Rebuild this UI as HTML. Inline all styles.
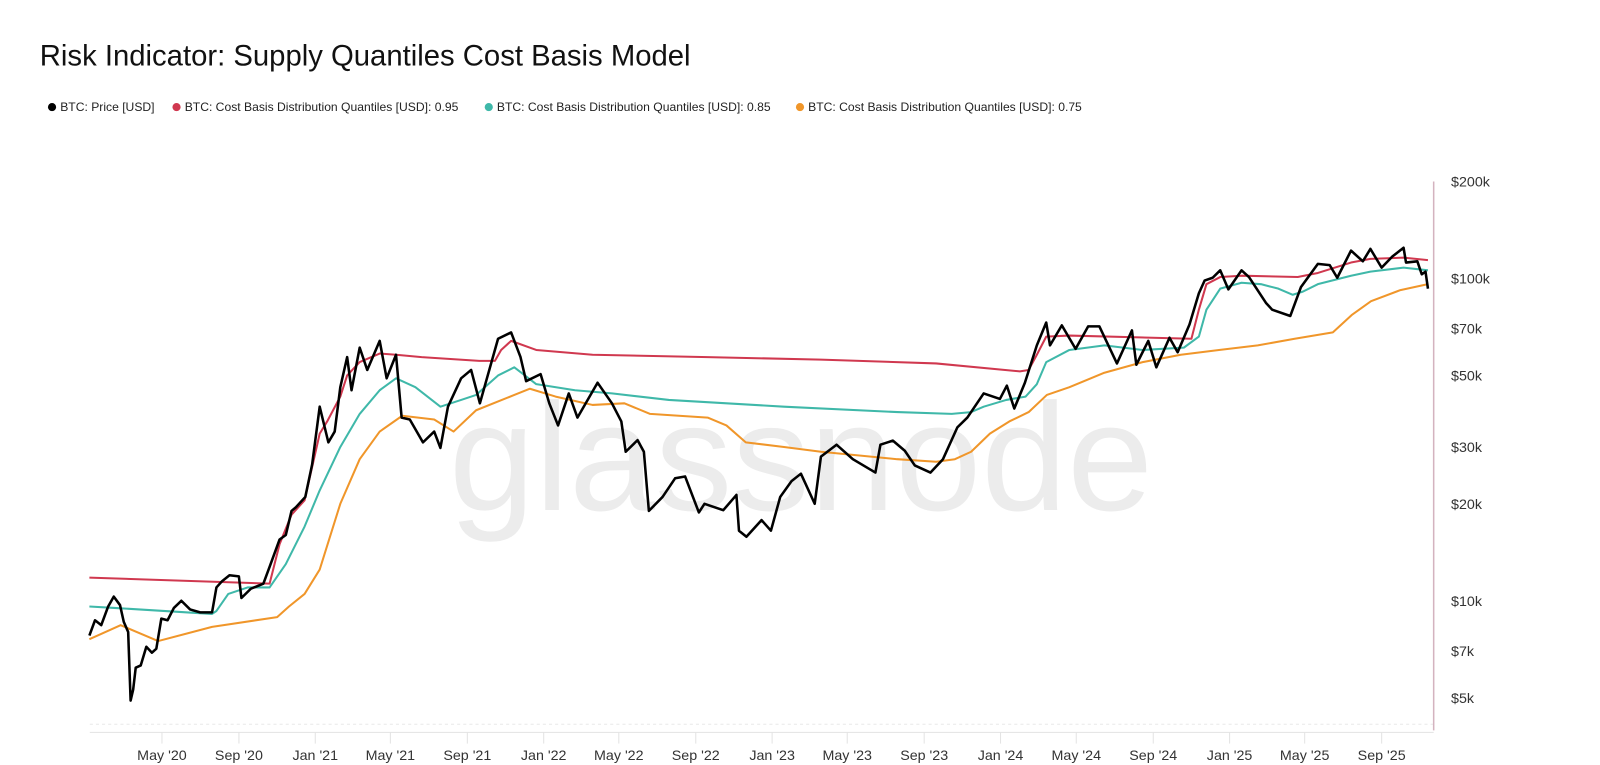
<!DOCTYPE html>
<html><head><meta charset="utf-8">
<style>
html,body{margin:0;padding:0;background:#fff;}
body{width:1600px;height:765px;overflow:hidden;font-family:"Liberation Sans",sans-serif;}
svg{display:block}
</style></head>
<body>
<svg id="chart" width="1600" height="765" viewBox="0 0 1568 750" preserveAspectRatio="none" xmlns="http://www.w3.org/2000/svg">
  <text x="39" y="64" font-family="Liberation Sans, sans-serif" font-size="28.7" fill="#111">Risk Indicator: Supply Quantiles Cost Basis Model</text>
  <g font-family="Liberation Sans, sans-serif" font-size="11.9" fill="#222">
    <g><circle cx="51" cy="105" r="4" fill="#000"/><text x="59" y="109">BTC: Price [USD]</text></g>
    <g><circle cx="173" cy="105" r="4" fill="#d0384f"/><text x="181" y="109">BTC: Cost Basis Distribution Quantiles [USD]: 0.95</text></g>
    <g><circle cx="479" cy="105" r="4" fill="#3fb8a9"/><text x="487" y="109">BTC: Cost Basis Distribution Quantiles [USD]: 0.85</text></g>
    <g><circle cx="784" cy="105" r="4" fill="#f0962a"/><text x="792" y="109">BTC: Cost Basis Distribution Quantiles [USD]: 0.75</text></g>
  </g>
  <text x="785" y="500" text-anchor="middle" font-family="Liberation Sans, sans-serif" font-size="150" fill="#ececec" textLength="690" lengthAdjust="spacingAndGlyphs">glassnode</text>
  <line x1="88" x2="1405" y1="710" y2="710" stroke="#e8e8e8" stroke-dasharray="3,3"/>
  <line x1="88" x2="1405" y1="718" y2="718" stroke="#e3e3e3"/>
  <line x1="1405" x2="1405" y1="178" y2="716" stroke="#d4b3bf" stroke-width="1.5"/>
  <g id="xaxis"></g>
  <g id="yaxis"></g>
  <g id="series"></g>
</svg>
<script>
const priceDates = ["2020-01-06","2020-01-15","2020-01-25","2020-02-05","2020-02-14","2020-02-24","2020-03-01","2020-03-08","2020-03-12","2020-03-16","2020-03-20","2020-03-28","2020-04-06","2020-04-15","2020-04-22","2020-04-30","2020-05-10","2020-05-20","2020-06-01","2020-06-15","2020-07-01","2020-07-20","2020-07-27","2020-08-05","2020-08-17","2020-09-01","2020-09-05","2020-09-20","2020-10-10","2020-10-21","2020-11-05","2020-11-15","2020-11-24","2020-12-01","2020-12-16","2020-12-27","2021-01-08","2021-01-22","2021-02-01","2021-02-10","2021-02-21","2021-02-28","2021-03-13","2021-03-25","2021-04-14","2021-04-25","2021-05-10","2021-05-19","2021-06-01","2021-06-22","2021-07-10","2021-07-20","2021-08-01","2021-08-22","2021-09-07","2021-09-21","2021-10-01","2021-10-20","2021-11-10","2021-11-25","2021-12-04","2021-12-27","2022-01-10","2022-01-24","2022-02-10","2022-02-24","2022-03-28","2022-04-20","2022-05-05","2022-05-12","2022-05-31","2022-06-10","2022-06-18","2022-07-10","2022-07-30","2022-08-15","2022-09-06","2022-09-15","2022-10-15","2022-11-05","2022-11-09","2022-11-21","2022-12-15","2022-12-30","2023-01-14","2023-02-01","2023-02-16","2023-03-10","2023-03-20","2023-04-14","2023-05-10","2023-06-15","2023-06-23","2023-07-13","2023-08-01","2023-08-17","2023-09-11","2023-10-01","2023-10-24","2023-11-09","2023-12-05","2023-12-31","2024-01-11","2024-01-23","2024-02-09","2024-02-28","2024-03-14","2024-03-20","2024-04-08","2024-04-30","2024-05-20","2024-06-07","2024-07-05","2024-07-29","2024-08-05","2024-08-24","2024-09-06","2024-09-27","2024-10-10","2024-10-29","2024-11-13","2024-11-22","2024-12-05","2024-12-17","2024-12-30","2025-01-20","2025-02-01","2025-02-28","2025-03-10","2025-04-08","2025-04-25","2025-05-22","2025-06-10","2025-06-22","2025-07-14","2025-08-02","2025-08-14","2025-09-01","2025-09-18","2025-10-06","2025-10-10","2025-10-28","2025-11-04","2025-11-10","2025-11-14"];
const priceValues = [7800,8700,8400,9600,10300,9700,8600,8000,4900,5300,6200,6300,7200,6900,7100,8800,8700,9500,10000,9400,9200,9200,11000,11500,12000,11900,10200,10900,11300,12900,15500,16000,19000,19500,21000,26500,40000,31000,33500,46000,57000,45000,61000,52000,64000,49000,58000,37000,36500,31000,33500,29800,40000,49000,52000,41000,48000,65000,68000,57000,48000,50500,41000,35000,44000,37000,47500,41000,36000,29000,31500,29000,19000,21000,24000,24300,18800,20000,19100,21300,16500,15800,17800,16500,21000,23500,24800,20000,28000,30500,27500,25000,30500,31400,29200,26300,25000,27500,34500,37000,44000,42300,46500,39500,47500,62000,73000,62000,71500,60500,71000,71000,54500,69000,54000,64000,53000,65500,59000,72000,90000,98500,100500,106000,92500,106000,101000,84000,80000,76500,94000,111000,110000,100500,122000,113000,123500,108000,117000,124500,112000,113000,103000,105000,93000];

const q95Dates = ["2020-01-06","2020-10-20","2020-11-05","2020-11-24","2020-12-15","2021-01-08","2021-01-20","2021-02-10","2021-02-21","2021-03-13","2021-04-14","2021-05-10","2021-06-20","2021-09-20","2021-10-15","2021-10-25","2021-11-10","2021-12-20","2022-03-20","2022-09-20","2023-03-20","2023-09-20","2024-02-01","2024-02-15","2024-02-28","2024-03-14","2024-04-20","2024-11-01","2024-11-13","2024-11-25","2024-12-17","2025-01-20","2025-04-20","2025-05-22","2025-07-14","2025-08-14","2025-10-06","2025-11-14"];
const q95Values = [11800,11300,15000,18500,20500,33000,36000,43000,50000,55000,58500,58000,57000,55500,55500,60000,64000,60000,58000,57000,56000,54500,51500,52000,58000,66000,66500,65000,80000,96000,101000,102000,101000,104000,112000,115000,116000,114000];

const q85Dates = ["2020-01-06","2020-02-15","2020-07-20","2020-07-27","2020-08-15","2020-09-15","2020-10-20","2020-11-15","2020-12-15","2021-01-08","2021-02-10","2021-03-13","2021-04-14","2021-05-10","2021-06-10","2021-07-20","2021-08-22","2021-09-15","2021-10-20","2021-11-15","2021-12-20","2022-02-20","2022-04-20","2022-07-20","2023-01-20","2023-07-20","2023-10-15","2023-11-15","2023-12-05","2024-01-10","2024-02-10","2024-02-28","2024-03-14","2024-04-20","2024-06-15","2024-08-15","2024-10-20","2024-11-13","2024-11-25","2024-12-17","2025-01-20","2025-02-20","2025-03-20","2025-04-12","2025-04-28","2025-05-22","2025-07-14","2025-08-14","2025-10-06","2025-11-14"];
const q85Values = [9600,9500,9100,9300,10500,11000,11000,13000,17000,22000,30000,38000,45000,49000,46000,40000,42000,43500,50000,53000,47000,45000,44000,42000,40000,38500,38000,38500,40000,42000,43000,47000,55000,60000,62000,60000,61000,66000,80000,93000,97000,96000,93000,89000,91000,96000,102000,105000,108000,106000];

const q75Dates = ["2020-01-06","2020-02-25","2020-04-25","2020-07-20","2020-11-01","2020-11-20","2020-12-15","2021-01-08","2021-02-10","2021-03-13","2021-04-14","2021-05-20","2021-07-10","2021-08-10","2021-09-15","2021-11-15","2021-12-10","2022-01-20","2022-03-20","2022-05-10","2022-06-20","2022-09-20","2022-10-20","2022-11-20","2023-01-20","2023-03-20","2023-07-20","2023-09-20","2023-10-20","2023-11-15","2023-12-15","2024-01-15","2024-02-15","2024-03-15","2024-04-20","2024-06-15","2024-08-15","2024-10-15","2024-12-15","2025-02-15","2025-04-15","2025-06-15","2025-07-15","2025-08-15","2025-10-01","2025-11-14"];
const q75Values = [7600,8400,7500,8300,8900,9600,10500,12500,20000,27500,33500,37500,36500,33500,39000,43500,45500,43000,40500,41000,38000,37000,35000,31000,30000,29000,27500,27000,27500,29000,33000,36000,38500,43500,46000,51000,55000,58000,60000,62000,65000,68000,77000,85000,92000,96000];

const yTickValues = [200000,100000,70000,50000,30000,20000,10000,7000,5000];
const yTickLabels = ["$200k","$100k","$70k","$50k","$30k","$20k","$10k","$7k","$5k"];
const xTickDates = ["2020-05-01","2020-09-01","2021-01-01","2021-05-01","2021-09-01","2022-01-01","2022-05-01","2022-09-01","2023-01-01","2023-05-01","2023-09-01","2024-01-01","2024-05-01","2024-09-01","2025-01-01","2025-05-01","2025-09-01"];
const xTickLabels = ["May '20","Sep '20","Jan '21","May '21","Sep '21","Jan '22","May '22","Sep '22","Jan '23","May '23","Sep '23","Jan '24","May '24","Sep '24","Jan '25","May '25","Sep '25"];

const NS = "http://www.w3.org/2000/svg";
function dayOf(s){const p=s.split("-").map(Number);return (Date.UTC(p[0],p[1]-1,p[2])-Date.UTC(2020,0,1))/864e5;}
function xScale(s){return 84.5+0.6133*dayOf(s);}
function yScale(v){return 273-316*Math.log10(v/100000);}

const xg=document.getElementById("xaxis");
xTickDates.forEach((d,i)=>{
  const x=xScale(d);
  const t=document.createElementNS(NS,"line");
  t.setAttribute("x1",x);t.setAttribute("x2",x);t.setAttribute("y1",718);t.setAttribute("y2",729);
  t.setAttribute("stroke","#e3e3e3");
  
  
  xg.appendChild(t);
  const tx=document.createElementNS(NS,"text");
  tx.setAttribute("x",x);tx.setAttribute("y",745);tx.setAttribute("text-anchor","middle");
  tx.setAttribute("font-size","14");tx.setAttribute("fill","#333");tx.setAttribute("font-family","Liberation Sans, sans-serif");
  tx.textContent=xTickLabels[i];
  
  
  xg.appendChild(tx);
});
const yg=document.getElementById("yaxis");
yTickValues.forEach((v,i)=>{
  const tx=document.createElementNS(NS,"text");
  tx.setAttribute("x",1422);tx.setAttribute("y",yScale(v)+5);
  tx.setAttribute("font-size","14");tx.setAttribute("fill","#333");tx.setAttribute("font-family","Liberation Sans, sans-serif");
  tx.textContent=yTickLabels[i];
  
  
  yg.appendChild(tx);
});
const sg=document.getElementById("series");
function drawLine(dates,vals,color,w,name){
  const p=document.createElementNS(NS,"path");
  let d="";
  dates.forEach((dt,i)=>{d+=(i?"L":"M")+xScale(dt).toFixed(1)+","+yScale(vals[i]).toFixed(1);});
  p.setAttribute("d",d);p.setAttribute("fill","none");p.setAttribute("stroke",color);
  p.setAttribute("stroke-width",w);p.setAttribute("stroke-linejoin","round");
  
  
  sg.appendChild(p);
}
drawLine(q75Dates,q75Values,"#f0962a",2,"q75-line");
drawLine(q85Dates,q85Values,"#3fb8a9",2,"q85-line");
drawLine(q95Dates,q95Values,"#d0384f",2,"q95-line");
drawLine(priceDates,priceValues,"#000",2.5,"price-line");
</script>
</body></html>
